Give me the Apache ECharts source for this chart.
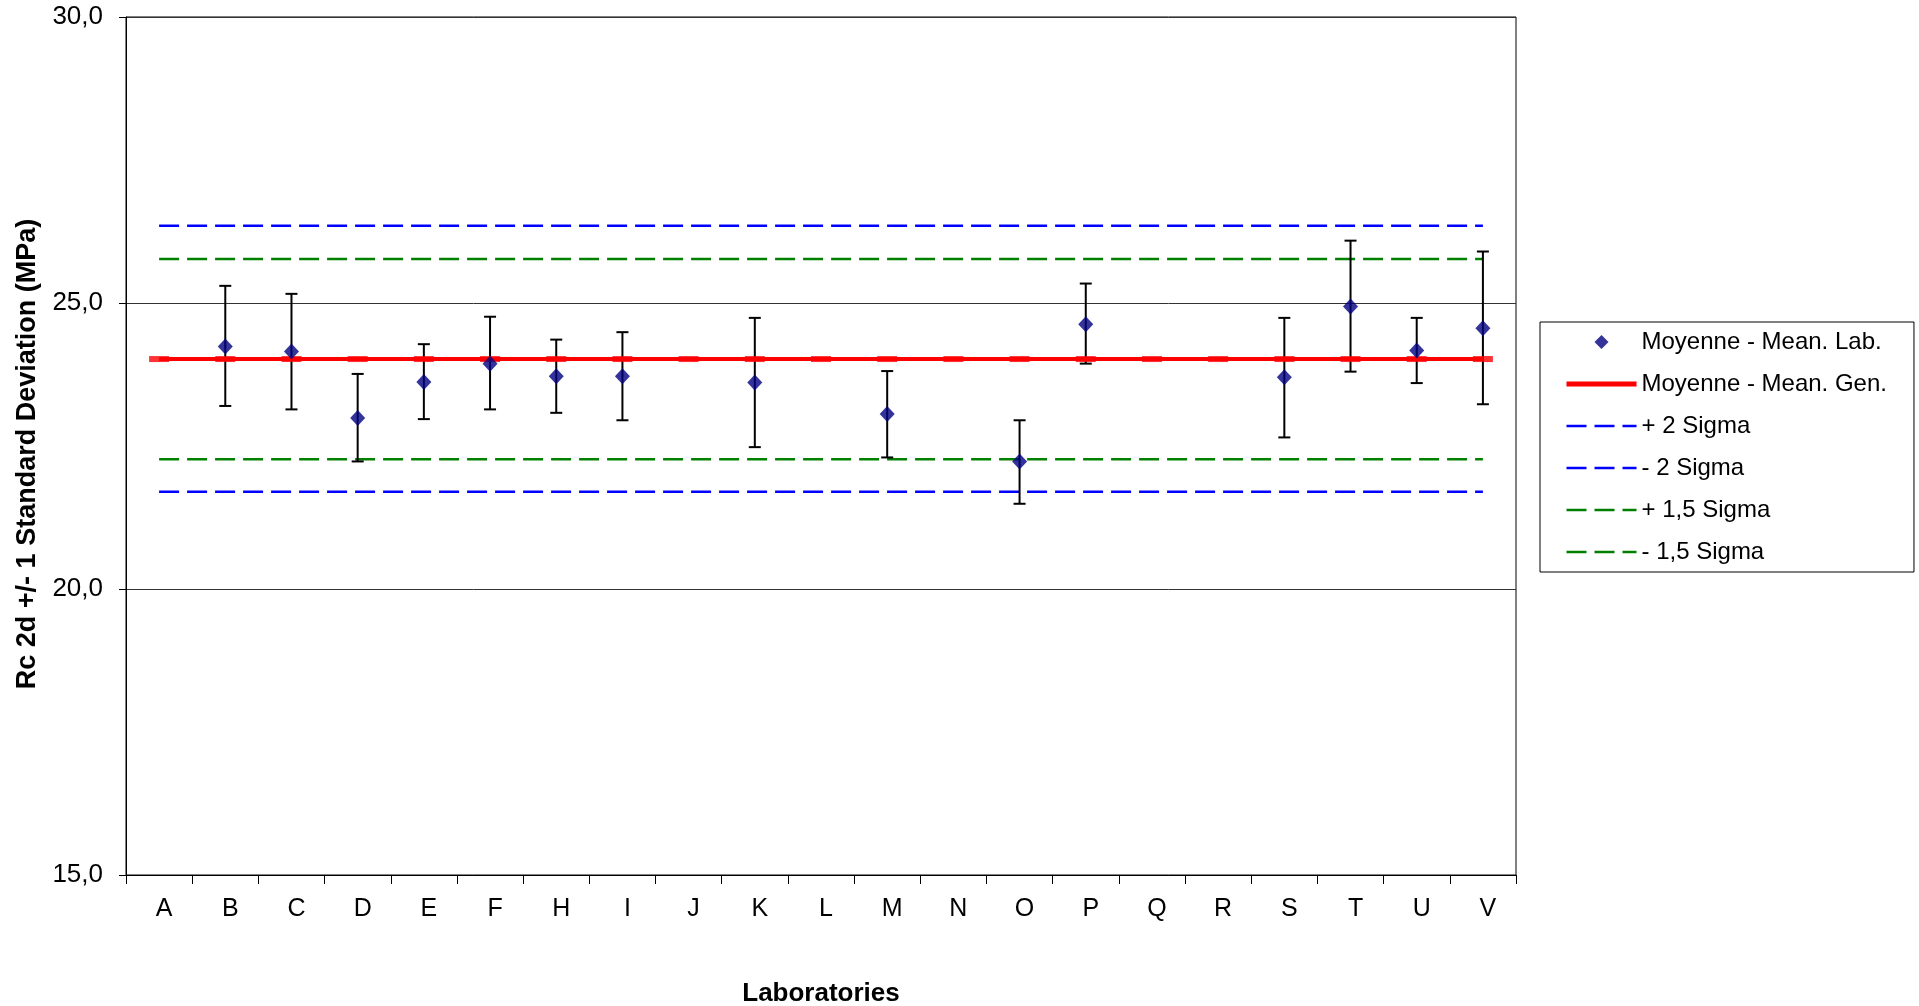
<!DOCTYPE html>
<html>
<head>
<meta charset="utf-8">
<script src="https://cdn.jsdelivr.net/npm/echarts@6/dist/echarts.min.js"></script>
<style>
  html, body { margin: 0; padding: 0; background: #fff; }
  #chart { width: 1919px; height: 1006px; }
</style>
</head>
<body>
<div id="chart"></div>
<script>
// ---- Data ----
const categories = ['A','B','C','D','E','F','H','I','J','K','L','M','N','O','P','Q','R','S','T','U','V'];
const labMean = [null, 24.24, 24.15, 22.99, 23.62, 23.94, 23.72, 23.72, null, 23.61, null, 23.06, null, 22.23, 24.63, null, null, 23.70, 24.94, 24.17, 24.56];
const labHigh = [null, 25.30, 25.16, 23.76, 24.28, 24.76, 24.36, 24.49, null, 24.74, null, 23.81, null, 22.95, 25.34, null, null, 24.74, 26.09, 24.74, 25.90];
const labLow  = [null, 23.20, 23.14, 22.23, 22.97, 23.14, 23.08, 22.95, null, 22.48, null, 22.30, null, 21.49, 23.94, null, null, 22.65, 23.80, 23.60, 23.23];
const genMean = 24.02;
const plus2Sigma = 26.35;
const minus2Sigma = 21.70;
const plus15Sigma = 25.77;
const minus15Sigma = 22.27;
const yTicks = [15, 20, 25, 30];

// ---- Build ----
const FONT = 'Liberation Sans, Arial, sans-serif';
const DIAMOND = 'path://M0,-1L1,0L0,1L-1,0Z';
const constLine = v => categories.map(() => v);
const errData = [];
labMean.forEach((m, i) => { if (m !== null) errData.push([i, labLow[i], labHigh[i]]); });
const scatterData = labMean.map((m, i) => m === null ? null : [i, m]).filter(d => d);
const noSym = { opacity: 0 };

const chart = echarts.init(document.getElementById('chart'));
chart.setOption({
  animation: false,
  backgroundColor: '#fff',
  grid: { left: 126, right: 403, top: 17, bottom: 131, show: true, borderColor: '#000', borderWidth: 1,
    containLabel: false, outerBoundsMode: 'none' },
  xAxis: {
    type: 'category',
    data: categories,
    boundaryGap: true,
    axisLine: { lineStyle: { color: '#000', width: 1 } },
    axisTick: { show: true, length: 9, lineStyle: { color: '#000' } },
    axisLabel: { color: '#000', fontSize: 25, fontFamily: FONT, margin: 22, padding: [0, 0, 0, 10] },
    splitLine: { show: false },
    name: 'Laboratories',
    nameLocation: 'middle',
    nameGap: 106,
    nameTextStyle: { color: '#000', fontSize: 26, fontWeight: 'bold', fontFamily: FONT }
  },
  yAxis: {
    type: 'value',
    min: yTicks[0], max: yTicks[yTicks.length - 1], interval: 5,
    axisLine: { show: true, lineStyle: { color: '#000', width: 1 } },
    axisTick: { show: true, length: 7, lineStyle: { color: '#000' } },
    axisLabel: { color: '#000', fontSize: 26, fontFamily: FONT, margin: 23,
      formatter: v => v.toFixed(1).replace('.', ',') },
    splitLine: { show: true, lineStyle: { color: '#333', width: 1 } },
    name: 'Rc 2d +/- 1 Standard Deviation (MPa)',
    nameLocation: 'middle',
    nameGap: 82,
    nameTextStyle: { color: '#000', fontSize: 27, fontWeight: 'bold', fontFamily: FONT, padding: [0, 16, 0, 0] }
  },
  legend: {
    orient: 'vertical',
    left: 1540, top: 322,
    padding: [8, 27, 8, 24],
    itemGap: 18,
    itemWidth: 70,
    itemHeight: 14,
    itemTextGap: 6,
    symbolKeepAspect: true,
    borderColor: '#000', borderWidth: 1,
    backgroundColor: '#fff',
    textStyle: { color: '#000', fontSize: 24, fontFamily: FONT },
    data: [
      { name: 'Moyenne - Mean. Lab.', icon: DIAMOND },
      { name: 'Moyenne - Mean. Gen.', itemStyle: noSym, lineStyle: { width: 5 } },
      { name: '+ 2 Sigma', itemStyle: noSym, lineStyle: { width: 2.5 } },
      { name: '- 2 Sigma', itemStyle: noSym, lineStyle: { width: 2.5 } },
      { name: '+ 1,5 Sigma', itemStyle: noSym, lineStyle: { width: 2.5 } },
      { name: '- 1,5 Sigma', itemStyle: noSym, lineStyle: { width: 2.5 } }
    ]
  },
  series: [
    { name: '+ 2 Sigma', type: 'line', data: constLine(plus2Sigma), symbol: 'none', z: 2,
      lineStyle: { color: '#0000FF', width: 2.5, type: [20, 8] }, itemStyle: { color: '#0000FF' } },
    { name: '- 2 Sigma', type: 'line', data: constLine(minus2Sigma), symbol: 'none', z: 2,
      lineStyle: { color: '#0000FF', width: 2.5, type: [20, 8] }, itemStyle: { color: '#0000FF' } },
    { name: '+ 1,5 Sigma', type: 'line', data: constLine(plus15Sigma), symbol: 'none', z: 2,
      lineStyle: { color: '#008000', width: 2.5, type: [20, 8] }, itemStyle: { color: '#008000' } },
    { name: '- 1,5 Sigma', type: 'line', data: constLine(minus15Sigma), symbol: 'none', z: 2,
      lineStyle: { color: '#008000', width: 2.5, type: [20, 8] }, itemStyle: { color: '#008000' } },
    { name: 'errbars', type: 'custom', data: errData, z: 3,
      renderItem: (params, api) => {
        const x = api.value(0);
        const lo = api.coord([x, api.value(1)]);
        const hi = api.coord([x, api.value(2)]);
        const w = 6;
        const st = { stroke: '#000', lineWidth: 2 };
        return { type: 'group', children: [
          { type: 'line', shape: { x1: lo[0], y1: lo[1], x2: hi[0], y2: hi[1] }, style: st },
          { type: 'line', shape: { x1: lo[0] - w, y1: lo[1], x2: lo[0] + w, y2: lo[1] }, style: st },
          { type: 'line', shape: { x1: hi[0] - w, y1: hi[1], x2: hi[0] + w, y2: hi[1] }, style: st }
        ]};
      },
      encode: { x: 0, y: [1, 2] }
    },
    { name: 'Moyenne - Mean. Gen.', type: 'line', data: constLine(genMean), symbol: 'none', z: 4,
      lineStyle: { color: '#FF0000', width: 4 }, itemStyle: { color: '#FF0000' } },
    { name: 'genMarkers', type: 'scatter', data: constLine(genMean), symbol: 'rect', symbolSize: [20, 6], z: 4,
      itemStyle: { color: '#FF0000' } },
    { name: 'Moyenne - Mean. Lab.', type: 'scatter', data: scatterData, symbol: DIAMOND, symbolSize: [15, 16], z: 5,
      itemStyle: { color: '#000080' } }
  ]
});
</script>
</body>
</html>
